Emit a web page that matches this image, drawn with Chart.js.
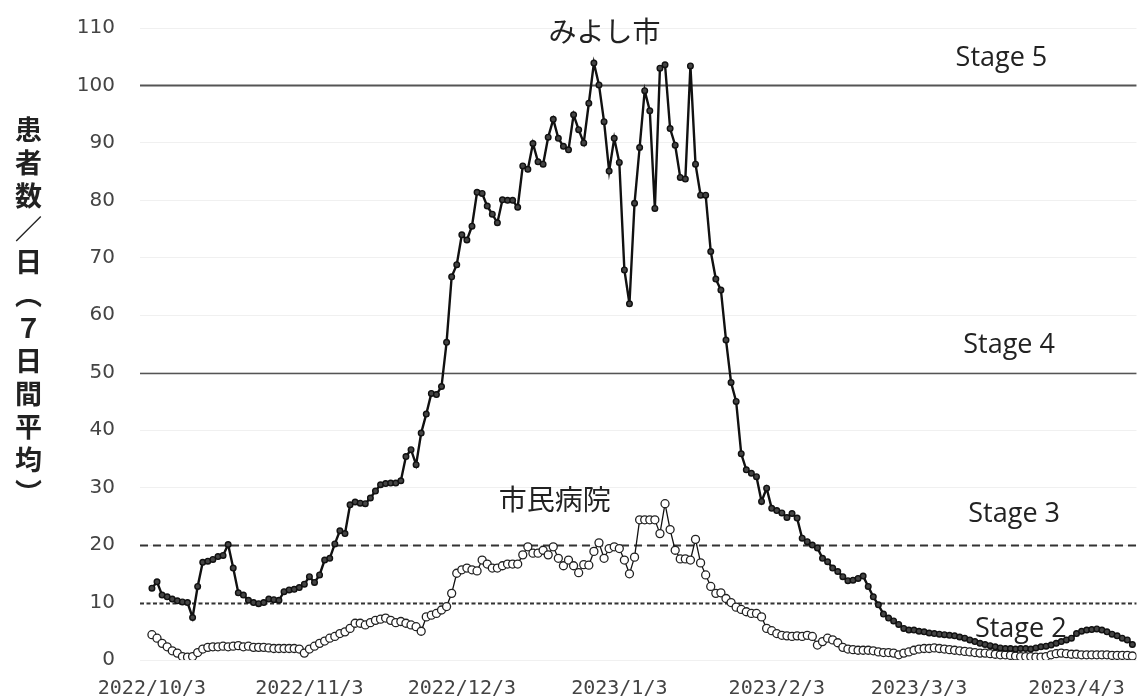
<!DOCTYPE html>
<html lang="ja">
<head>
<meta charset="utf-8">
<title>みよし市 患者数</title>
<script src="https://cdn.jsdelivr.net/npm/chart.js@4/dist/chart.umd.min.js"></script>
<style>
  html, body { margin: 0; padding: 0; background: #fff; }
  #wrap { position: relative; width: 1142px; height: 698px; }
  #ytitle {
    position: absolute; left: 12px; top: 116px;
    writing-mode: vertical-rl; text-orientation: mixed;
    font: bold 27px "Noto Sans CJK JP", sans-serif; letter-spacing: 6px;
    color: #222; line-height: 32px;
  }
</style>
</head>
<body>
<div id="wrap">
  <canvas id="chart"></canvas>
  <div id="ytitle">患者数／日（７日間平均）</div>
</div>
<script>
// daily 7-day averages, starting 2022/10/3
var MIYOSHI = [
  12.5, 13.6, 11.3, 11.0, 10.6, 10.3, 10.1, 10.0, 7.4, 12.8,
  17.0, 17.2, 17.5, 18.0, 18.2, 20.1, 16.0, 11.7, 11.3, 10.4,
  10.0, 9.8, 10.0, 10.6, 10.5, 10.4, 11.9, 12.2, 12.3, 12.6,
  13.2, 14.5, 13.5, 14.8, 17.4, 17.7, 20.2, 22.5, 22.0, 27.0,
  27.5, 27.3, 27.2, 28.2, 29.4, 30.5, 30.7, 30.8, 30.8, 31.2,
  35.4, 36.6, 34.0, 39.5, 42.8, 46.4, 46.2, 47.6, 55.3, 66.7,
  68.8, 74.0, 73.1, 75.5, 81.4, 81.2, 79.0, 77.6, 76.1, 80.1,
  80.0, 80.0, 78.8, 86.0, 85.4, 89.9, 86.7, 86.3, 91.0, 94.1,
  90.8, 89.4, 88.8, 94.9, 92.3, 90.0, 96.9, 103.9, 100.1, 93.7,
  85.1, 90.8, 86.6, 67.9, 62.0, 79.5, 89.2, 99.1, 95.6, 78.6,
  103.0, 103.6, 92.5, 89.6, 84.0, 83.7, 103.4, 86.3, 80.9, 80.9,
  71.1, 66.3, 64.4, 55.7, 48.3, 45.0, 35.9, 33.1, 32.5, 31.9,
  27.6, 29.9, 26.4, 26.0, 25.6, 24.8, 25.5, 24.7, 21.2, 20.6,
  20.0, 19.5, 17.7, 17.1, 16.0, 15.4, 14.5, 13.8, 13.9, 14.2,
  14.6, 12.8, 11.0, 9.6, 8.0, 7.3, 6.8, 6.2, 5.5, 5.2,
  5.2, 5.0, 4.9, 4.7, 4.6, 4.5, 4.4, 4.3, 4.2, 4.0,
  3.8, 3.5, 3.2, 2.9, 2.7, 2.5, 2.3, 2.1, 2.0, 2.0,
  1.9, 2.0, 2.0, 1.9, 2.1, 2.3, 2.4, 2.6, 2.9, 3.2,
  3.5, 3.8, 4.6, 5.0, 5.2, 5.3, 5.4, 5.2, 4.9, 4.5,
  4.2, 3.8, 3.5, 2.7
];
var HOSPITAL = [
  4.4, 3.8, 2.9, 2.3, 1.6, 1.2, 0.6, 0.5, 0.6, 1.3,
  1.9, 2.2, 2.3, 2.3, 2.4, 2.3, 2.4, 2.5, 2.3, 2.4,
  2.2, 2.2, 2.2, 2.1, 2.0, 2.0, 2.0, 2.0, 2.0, 1.9,
  1.2, 1.9, 2.4, 2.9, 3.3, 3.8, 4.1, 4.6, 4.9, 5.5,
  6.4, 6.4, 6.1, 6.5, 6.9, 7.1, 7.3, 6.9, 6.5, 6.7,
  6.4, 6.1, 5.8, 5.0, 7.5, 7.8, 8.1, 8.7, 9.3, 11.6,
  15.1, 15.7, 16.0, 15.7, 15.5, 17.4, 16.7, 16.0, 16.0, 16.4,
  16.7, 16.7, 16.7, 18.3, 19.7, 18.6, 18.6, 19.1, 18.3, 19.7,
  17.7, 16.4, 17.4, 16.4, 15.2, 16.6, 16.5, 18.9, 20.4, 17.7,
  19.4, 19.7, 19.4, 17.4, 15.0, 17.9, 24.4, 24.4, 24.4, 24.4,
  22.0, 27.2, 22.7, 19.1, 17.6, 17.6, 17.4, 21.0, 16.9, 14.8,
  12.8, 11.6, 11.7, 10.7, 10.0, 9.2, 8.8, 8.4, 8.1, 8.1,
  7.5, 5.5, 5.1, 4.6, 4.3, 4.2, 4.1, 4.2, 4.1, 4.3,
  4.1, 2.6, 3.2, 3.8, 3.5, 3.0, 2.2, 1.9, 1.8, 1.7,
  1.7, 1.7, 1.6, 1.4, 1.3, 1.3, 1.2, 0.9, 1.2, 1.4,
  1.7, 1.9, 2.0, 2.0, 2.1, 2.0, 1.9, 1.8, 1.7, 1.6,
  1.5, 1.4, 1.3, 1.2, 1.2, 1.1, 1.0, 0.9, 0.9, 0.8,
  0.7, 0.6, 0.6, 0.6, 0.5, 0.5, 0.6, 0.9, 1.1, 1.2,
  1.1, 1.0, 1.0, 0.9, 0.9, 0.9, 0.9, 0.9, 0.9, 0.8,
  0.8, 0.8, 0.8, 0.7
];
var TICK_LABELS = ["2022/10/3", "2022/11/3", "2022/12/3", "2023/1/3", "2023/2/3", "2023/3/3", "2023/4/3"];
var STAGE_VALUES = [100, 50, 20, 10];
var STAGE_NAMES = ["Stage 5", "Stage 4", "Stage 3", "Stage 2"];
var SERIES_NAMES = ["みよし市", "市民病院"];

// one label per day
var DAY_LABELS = [];
(function () {
  var d = new Date(2022, 9, 3);
  for (var i = 0; i < MIYOSHI.length; i++) {
    DAY_LABELS.push(d.getFullYear() + "/" + (d.getMonth() + 1) + "/" + d.getDate());
    d.setDate(d.getDate() + 1);
  }
})();

function toXY(arr) {
  return arr.map(function (v, i) { return { x: i, y: v }; });
}

// line styles for the stage thresholds, same order as STAGE_VALUES
var STAGE_STYLE = [
  { color: "#555", width: 2, dash: [] },
  { color: "#555", width: 1.6, dash: [] },
  { color: "#333", width: 2, dash: [8, 5] },
  { color: "#333", width: 2, dash: [4, 2.5] }
];
// text positions in data units (day index, value)
var STAGE_TEXT_POS = [[158.2, 104.8], [159.7, 54.8], [160.7, 25.4], [162.0, 5.4]];
var SERIES_TEXT_POS = [[89.1, 109.4], [79.3, 28.0]];

var stageLines = {
  id: "stageLines",
  beforeDatasetsDraw: function (chart) {
    var ctx = chart.ctx, a = chart.chartArea, y = chart.scales.y;
    ctx.save();
    STAGE_VALUES.forEach(function (v, i) {
      var s = STAGE_STYLE[i];
      var py = Math.round(y.getPixelForValue(v)) + 0.5;
      ctx.beginPath();
      ctx.strokeStyle = s.color;
      ctx.lineWidth = s.width;
      ctx.setLineDash(s.dash);
      ctx.moveTo(a.left, py);
      ctx.lineTo(a.right, py);
      ctx.stroke();
    });
    ctx.restore();
  }
};

var textLabels = {
  id: "textLabels",
  afterDatasetsDraw: function (chart) {
    var ctx = chart.ctx, xs = chart.scales.x, ys = chart.scales.y;
    ctx.save();
    ctx.fillStyle = "#222";
    ctx.textBaseline = "middle";
    ctx.font = '27px "Open Sans", "Noto Sans", sans-serif';
    ctx.textAlign = "left";
    STAGE_NAMES.forEach(function (t, i) {
      var p = STAGE_TEXT_POS[i];
      ctx.fillText(t, xs.getPixelForValue(p[0]), ys.getPixelForValue(p[1]));
    });
    ctx.font = '28px "Noto Sans CJK JP", sans-serif';
    ctx.textAlign = "center";
    SERIES_NAMES.forEach(function (t, i) {
      var p = SERIES_TEXT_POS[i];
      ctx.fillText(t, xs.getPixelForValue(p[0]), ys.getPixelForValue(p[1]));
    });
    ctx.restore();
  }
};

Chart.defaults.font.family = '"DejaVu Sans", sans-serif';
Chart.defaults.color = "#444";

new Chart(document.getElementById("chart"), {
  type: "line",
  data: {
    datasets: [{
      label: SERIES_NAMES[0],
      data: toXY(MIYOSHI),
      borderColor: "#111",
      borderWidth: 2.4,
      pointRadius: 2.8,
      pointBackgroundColor: "#444",
      pointBorderColor: "#111",
      pointBorderWidth: 1.4,
      tension: 0
    }, {
      label: SERIES_NAMES[1],
      data: toXY(HOSPITAL),
      borderColor: "#111",
      borderWidth: 1.3,
      pointRadius: 4,
      pointBackgroundColor: "#fff",
      pointBorderColor: "#222",
      pointBorderWidth: 1.3,
      tension: 0
    }]
  },
  options: {
    responsive: true,
    maintainAspectRatio: false,
    animation: false,
    layout: { padding: { top: 28, right: 0, left: 0, bottom: 0 } },
    plugins: { legend: { display: false }, tooltip: { enabled: false } },
    scales: {
      x: {
        type: "linear",
        min: -2.35,
        max: 193.8,
        border: { display: false },
        grid: { display: false, drawTicks: false },
        afterBuildTicks: function (scale) {
          scale.ticks = TICK_LABELS.map(function (l) { return { value: DAY_LABELS.indexOf(l) }; });
        },
        afterFit: function (scale) { scale.height = 38; },
        ticks: {
          autoSkip: false,
          maxRotation: 0,
          padding: 17,
          color: "#444",
          font: { family: '"DejaVu Sans Mono", monospace', size: 20 },
          callback: function (v) { return DAY_LABELS[v]; }
        }
      },
      y: {
        min: 0,
        max: 110,
        border: { display: false },
        grid: { color: "#f0f0f0", drawTicks: false },
        afterFit: function (scale) {
          // tick padding would otherwise also push the plot top down
          scale.width = 140;
          scale.paddingTop = 0;
          scale.paddingBottom = 0;
        },
        ticks: {
          stepSize: 10,
          padding: 25,
          color: "#444",
          font: { size: 20 }
        }
      }
    }
  },
  plugins: [stageLines, textLabels]
});
</script>
</body>
</html>
